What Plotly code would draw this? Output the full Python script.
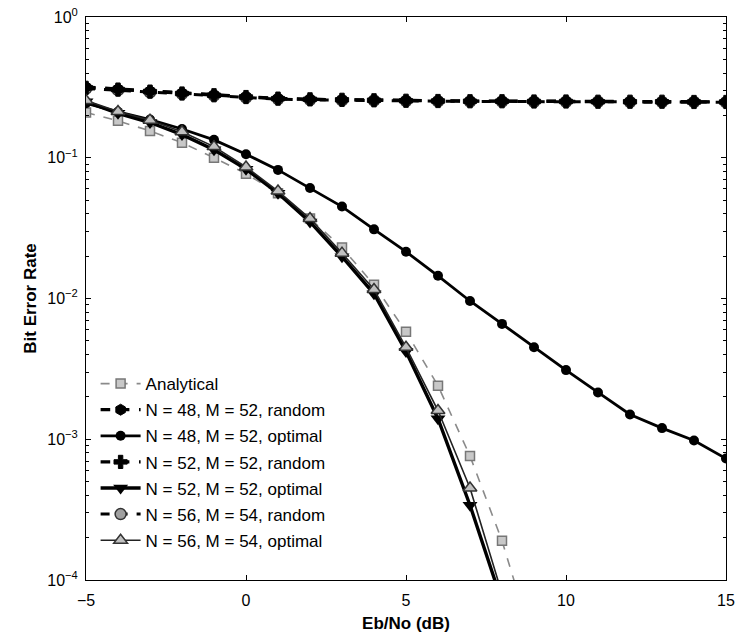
import plotly.graph_objects as go

# Eb/No grid (dB)
snr = list(range(-5, 16))

# Theoretical BER curve
ber_analytical = [0.21, 0.183, 0.155, 0.128, 0.100, 0.077, 0.056, 0.037, 0.023,
                  0.0125, 0.0058, 0.0024, 7.6e-4, 1.9e-4, 3.4e-5, 4e-6]

# Random subcarrier selection (error floor)
ber_48_random = [0.318, 0.308, 0.298, 0.288, 0.280, 0.272, 0.264, 0.260, 0.258, 0.256, 0.255,
                 0.254, 0.253, 0.253, 0.252, 0.252, 0.251, 0.251, 0.250, 0.250, 0.250]
ber_52_random = [0.314, 0.305, 0.295, 0.286, 0.278, 0.270, 0.263, 0.260, 0.258, 0.256, 0.254,
                 0.253, 0.252, 0.252, 0.251, 0.251, 0.250, 0.250, 0.250, 0.249, 0.249]
ber_56_random = [0.310, 0.302, 0.292, 0.284, 0.276, 0.268, 0.261, 0.258, 0.256, 0.255, 0.253,
                 0.252, 0.251, 0.251, 0.250, 0.250, 0.250, 0.249, 0.249, 0.249, 0.248]

# Optimal subcarrier selection
ber_48_optimal = [0.244, 0.212, 0.187, 0.160, 0.134, 0.106, 0.082, 0.061, 0.045, 0.031,
                  0.0215, 0.0145, 0.0096, 0.0066, 0.0045, 0.0031, 0.00215, 0.0015,
                  0.0012, 0.00098, 0.00073]
ber_52_optimal = [0.25, 0.207, 0.178, 0.146, 0.114, 0.083, 0.056, 0.035, 0.0198, 0.0108,
                  0.0042, 0.0014, 3.4e-4, 7e-5]
ber_56_optimal = [0.255, 0.213, 0.185, 0.153, 0.120, 0.086, 0.058, 0.037, 0.021, 0.0116,
                  0.0045, 0.0016, 4.5e-4, 8e-5]

names = ["Analytical",
         "N = 48, M = 52, random",
         "N = 48, M = 52, optimal",
         "N = 52, M = 52, random",
         "N = 52, M = 52, optimal",
         "N = 56, M = 54, random",
         "N = 56, M = 54, optimal"]

fig = go.Figure()

def add(y, name, line, marker):
    fig.add_trace(go.Scatter(
        x=snr[:len(y)], y=y, name=name, mode="lines+markers",
        line=line, marker=marker, legendgroup=name,
    ))

add(ber_analytical, names[0],
    dict(color="#8a8a8a", width=1.6, dash="dash"),
    dict(symbol="square", size=9, color="#c8c8c8", line=dict(color="#777777", width=1.5)))
add(ber_56_random, names[5],
    dict(color="black", width=3.0, dash="dash"),
    dict(symbol="circle", size=11, color="#a0a0a0", line=dict(color="#333333", width=1.5)))
add(ber_52_random, names[3],
    dict(color="black", width=3.2, dash="dash"),
    dict(symbol="cross", size=11, color="black", line=dict(color="black", width=1)))
add(ber_48_random, names[1],
    dict(color="black", width=3.2, dash="dash"),
    dict(symbol="hexagon", size=11, color="black", line=dict(color="black", width=1)))
add(ber_48_optimal, names[2],
    dict(color="black", width=2.8),
    dict(symbol="circle", size=10, color="black"))
add(ber_52_optimal, names[4],
    dict(color="black", width=3.4),
    dict(symbol="triangle-down", size=13, color="black"))
add(ber_56_optimal, names[6],
    dict(color="#222222", width=1.6),
    dict(symbol="triangle-up", size=12, color="#c0c0c0", line=dict(color="#333333", width=1.5)))

# legend order follows the list of names
for tr in fig.data:
    tr.legendrank = names.index(tr.name)

decades = [-4, -3, -2, -1, 0]
ytickvals = [10.0 ** d for d in decades]
yticktext = ["10<sup>\u2212%d</sup>" % -d if d < 0 else "10<sup>0</sup>" for d in decades]
yminor = [m * 10.0 ** d for d in decades[:-1] for m in range(2, 10)]

axis_font = dict(family="Liberation Sans, Arial", size=16, color="black")
title_font = dict(family="Liberation Sans, Arial", size=17, color="black")

fig.update_xaxes(
    range=[-5, 15], tickvals=[-5, 0, 5, 10, 15], automargin=False,
    ticks="inside", ticklen=5, tickwidth=1, tickcolor="black",
    showline=True, linecolor="black", linewidth=1, mirror="ticks",
    showgrid=False, zeroline=False, tickfont=axis_font, ticklabelstandoff=6,
    title=dict(text="<b>Eb/No (dB)</b>", font=title_font, standoff=9),
)
fig.update_yaxes(
    type="log", range=[-4, 0], tickvals=ytickvals, ticktext=yticktext, automargin=False,
    ticks="inside", ticklen=5, tickwidth=1, tickcolor="black",
    minor=dict(tickvals=yminor, ticks="inside", ticklen=3, tickcolor="black", showgrid=False),
    showline=True, linecolor="black", linewidth=1, mirror="ticks",
    showgrid=False, zeroline=False, tickfont=axis_font, ticklabelstandoff=4,
    title=dict(text="<b>Bit Error Rate</b>", font=title_font, standoff=6),
)

fig.update_layout(
    width=739, height=633,
    margin=dict(l=86, r=13, t=17, b=53),
    paper_bgcolor="white", plot_bgcolor="white",
    showlegend=True,
    legend=dict(
        x=0.015, y=0.38, xanchor="left", yanchor="top",
        bgcolor="rgba(0,0,0,0)", borderwidth=0,
        font=dict(family="Liberation Sans, Arial", size=17, color="black"),
        tracegroupgap=1, itemwidth=40,
    ),
)

fig.write_html("out.html")
